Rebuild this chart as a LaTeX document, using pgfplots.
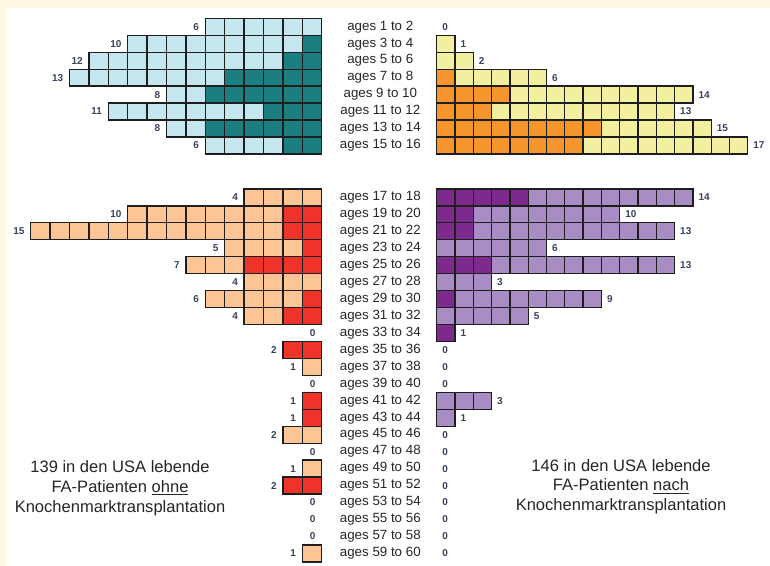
\documentclass[border=0pt]{standalone}
\usepackage{pgfplots}
\pgfplotsset{compat=1.18}
\usepackage{pgfplotstable}
\usepackage{fontspec}
\setmainfont{Liberation Sans}
\definecolor{cream}{HTML}{FFF8E2}
\definecolor{lblue}{HTML}{C5E6EE}
\definecolor{teal}{HTML}{1B7F82}
\definecolor{lyellow}{HTML}{F3EFA1}
\definecolor{orange}{HTML}{F7962C}
\definecolor{peach}{HTML}{FDC596}
\definecolor{red}{HTML}{EE342A}
\definecolor{dpurple}{HTML}{7C2A8B}
\definecolor{lpurple}{HTML}{A88CC4}
\definecolor{gridc}{HTML}{1E1E1E}
\definecolor{numc}{HTML}{39435C}
\definecolor{txtc}{HTML}{262626}

\pgfplotstableread[col sep=comma,row sep=\\]{
y,lab,lt,ld,rt,rd\\
26.8,ages 1 to 2,6,0,0,0\\
43.75,ages 3 to 4,10,1,1,0\\
60.7,ages 5 to 6,12,2,2,0\\
77.65,ages 7 to 8,13,5,6,1\\
94.6,ages 9 to 10,8,6,14,4\\
111.55,ages 11 to 12,11,3,13,3\\
128.5,ages 13 to 14,8,6,15,9\\
145.45,ages 15 to 16,6,2,17,8\\
}\toprows

\pgfplotstableread[col sep=comma,row sep=\\]{
y,lab,lt,ld,rt,rd\\
197.4,ages 17 to 18,4,0,14,5\\
214.35,ages 19 to 20,10,2,10,2\\
231.3,ages 21 to 22,15,2,13,2\\
248.25,ages 23 to 24,5,1,6,0\\
265.2,ages 25 to 26,7,4,13,3\\
282.15,ages 27 to 28,4,0,3,0\\
299.1,ages 29 to 30,6,1,9,1\\
316.05,ages 31 to 32,4,2,5,0\\
333.0,ages 33 to 34,0,0,1,1\\
349.95,ages 35 to 36,2,2,0,0\\
366.9,ages 37 to 38,1,0,0,0\\
383.85,ages 39 to 40,0,0,0,0\\
400.8,ages 41 to 42,1,1,3,0\\
417.75,ages 43 to 44,1,1,1,0\\
434.7,ages 45 to 46,2,0,0,0\\
451.65,ages 47 to 48,0,0,0,0\\
468.6,ages 49 to 50,1,0,0,0\\
485.55,ages 51 to 52,2,2,0,0\\
502.5,ages 53 to 54,0,0,0,0\\
519.45,ages 55 to 56,0,0,0,0\\
536.4,ages 57 to 58,0,0,0,0\\
553.35,ages 59 to 60,1,0,0,0\\
}\botrows

\pgfplotsset{cellbar/.style={xbar, bar width=16.95, bar shift=0pt, draw=gridc, line width=1pt, restrict x to domain=0:100}}

% #1 table, #2 total column, #3 dark column, #4 light colour, #5 dark colour, #6 list of k (descending)
\newcommand\cellplots[6]{%
  \pgfplotsinvokeforeach{#6}{%
    \addplot[cellbar, fill=#4] table[x expr={and(\thisrow{#2}>=##1,\thisrow{#3}<##1) ? ##1 : -1}, y=y] {#1};
    \addplot[cellbar, fill=#5] table[x expr={(\thisrow{#3}>=##1) ? ##1 : -1}, y=y] {#1};
  }%
}

\begin{document}
\begin{tikzpicture}
\fill[cream] (0pt,0pt) rectangle (577.5pt,-424.5pt);
\fill[white] (5.25pt,-6pt) rectangle (577.5pt,-424.5pt);

% left side: patients without transplant
\begin{axis}[at={(124.875pt,-212.25pt)}, anchor=center, scale only axis,
  width=232.8pt, height=424.5pt, xmin=0, xmax=16, ymin=0, ymax=566,
  x dir=reverse, y dir=reverse, axis lines=none, clip=false]
\cellplots{\toprows}{lt}{ld}{lblue}{teal}{13,12,...,1}
\cellplots{\botrows}{lt}{ld}{peach}{red}{15,14,...,1}
\addplot[draw=none, nodes near coords, point meta=explicit symbolic,
  every node near coord/.append style={anchor=east, xshift=-4.5pt, inner sep=0pt, font=\fontsize{7.5}{9}\selectfont\bfseries, text=numc}]
  table[x=lt, y=y, meta=lt] {\toprows};
\addplot[draw=none, nodes near coords, point meta=explicit symbolic,
  every node near coord/.append style={anchor=east, xshift=-4.5pt, inner sep=0pt, font=\fontsize{7.5}{9}\selectfont\bfseries, text=numc}]
  table[x=lt, y=y, meta=lt] {\botrows};
\end{axis}

% right side: patients after transplant
\begin{axis}[at={(451.05pt,-212.25pt)}, anchor=center, scale only axis,
  width=247.05pt, height=424.5pt, xmin=0, xmax=18, ymin=0, ymax=566,
  y dir=reverse, axis lines=none, clip=false]
\cellplots{\toprows}{rt}{rd}{lyellow}{orange}{17,16,...,1}
\cellplots{\botrows}{rt}{rd}{lpurple}{dpurple}{14,13,...,1}
\addplot[draw=none, nodes near coords, point meta=explicit symbolic,
  every node near coord/.append style={anchor=west, xshift=4pt, inner sep=0pt, font=\fontsize{7.5}{9}\selectfont\bfseries, text=numc}]
  table[x=rt, y=y, meta=rt] {\toprows};
\addplot[draw=none, nodes near coords, point meta=explicit symbolic,
  every node near coord/.append style={anchor=west, xshift=4pt, inner sep=0pt, font=\fontsize{7.5}{9}\selectfont\bfseries, text=numc}]
  table[x=rt, y=y, meta=rt] {\botrows};
% row labels
\addplot[draw=none, nodes near coords, point meta=explicit symbolic,
  every node near coord/.append style={anchor=center, inner sep=0pt, font=\fontsize{10}{12}\selectfont, text=txtc}]
  table[x expr=-3.082, y=y, meta=lab] {\toprows};
\addplot[draw=none, nodes near coords, point meta=explicit symbolic,
  every node near coord/.append style={anchor=center, inner sep=0pt, font=\fontsize{10}{12}\selectfont, text=txtc}]
  table[x expr=-3.082, y=y, meta=lab] {\botrows};
\end{axis}

\node[align=center, text=txtc, font=\fontsize{12.4}{14.8}\selectfont, inner sep=0pt] at (90pt,-366.2pt)
  {139 in den USA lebende\\FA-Patienten \underline{ohne}\\Knochenmarktransplantation};
\node[align=center, text=txtc, font=\fontsize{12.4}{14.8}\selectfont, inner sep=0pt] at (465.75pt,-365pt)
  {146 in den USA lebende\\FA-Patienten \underline{nach}\\Knochenmarktransplantation};

\pgfresetboundingbox
\useasboundingbox (0pt,0pt) rectangle (577.5pt,-424.5pt);
\end{tikzpicture}
\end{document}
